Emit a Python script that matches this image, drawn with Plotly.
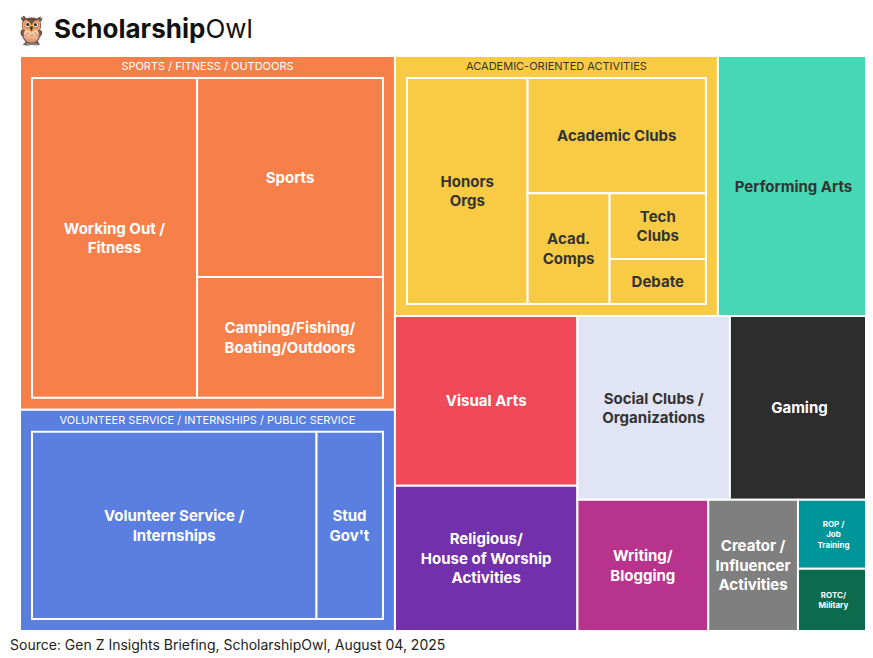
import plotly.graph_objects as go

labels = ["SPORTS / FITNESS / OUTDOORS", "Working Out /<br>Fitness", "Sports", "Camping/Fishing/<br>Boating/Outdoors",
          "VOLUNTEER SERVICE / INTERNSHIPS / PUBLIC SERVICE", "Volunteer Service /<br>Internships", "Stud<br>Gov't",
          "ACADEMIC-ORIENTED ACTIVITIES", "Honors<br>Orgs", "Academic Clubs", "Acad.<br>Comps", "Tech<br>Clubs", "Debate",
          "Performing Arts", "Visual Arts", "Religious/<br>House of Worship<br>Activities", "Social Clubs /<br>Organizations",
          "Gaming", "Writing/<br>Blogging", "Creator /<br>Influencer<br>Activities", "ROP /<br>Job<br>Training", "ROTC/<br>Military"]
S, V, A = labels[0], labels[4], labels[7]
parents = ["", S, S, S,
           "", V, V,
           "", A, A, A, A, A,
           "", "", "", "", "", "", "", "", ""]
values = [27.0, 12.7, 8.9, 5.4,
          16.9, 13.7, 3.2,
          17.1, 6.9, 5.2, 2.3, 1.6, 1.1,
          8.0, 6.3, 5.4, 5.7, 5.2, 3.5, 2.4, 1.0, 0.9]
colors = ["#F7804A", "#F7804A", "#F7804A", "#F7804A",
          "#5A7FE0", "#5A7FE0", "#5A7FE0",
          "#F9CB45", "#F9CB45", "#F9CB45", "#F9CB45", "#F9CB45", "#F9CB45",
          "#46D8B4", "#F04A5A", "#7230AA", "#E0E4F5", "#2D2D2D", "#B8348C", "#7F7F7F", "#00959A", "#0B6B4C"]
dark_text = {A, "Honors<br>Orgs", "Academic Clubs", "Acad.<br>Comps", "Tech<br>Clubs",
             "Debate", "Performing Arts", "Social Clubs /<br>Organizations"}
text_colors = ["#333333" if l in dark_text else "white" for l in labels]
sizes = [11 if l in (S, V, A) else 15 for l in labels]
sizes[-2] = 8
sizes[-1] = 8

fig = go.Figure(go.Treemap(
    labels=labels, parents=parents, values=values, branchvalues="total", sort=False,
    marker=dict(colors=colors, line=dict(color="white", width=2), pad=dict(t=22, l=12, r=12, b=12)),
    textfont=dict(family="Inter, Roboto, sans-serif", color=text_colors, size=sizes),
    texttemplate="<b>%{label}</b>", textposition="middle center",
    tiling=dict(packing="squarify", pad=0),
    pathbar=dict(visible=False),
))
fig.update_layout(
    width=873, height=658, autosize=False, margin=dict(l=0, r=0, t=26, b=23, pad=0),
    paper_bgcolor="white", font=dict(family="Inter, Roboto, sans-serif"),
    uniformtext=dict(minsize=7),
    annotations=[
        dict(text="<b>Scholarship</b>Owl", x=0, xanchor="left", xref="paper", y=1, yref="paper",
             yshift=23, showarrow=False, font=dict(size=26, color="#111111"), xshift=44),
        dict(text="\U0001F989", x=0, xanchor="left", xref="paper", y=1, yref="paper",
             yshift=23, showarrow=False, font=dict(size=28), xshift=4),
        dict(text="Source: Gen Z Insights Briefing, ScholarshipOwl, August 04, 2025", x=0, xanchor="left",
             xref="paper", y=0, yref="paper", yshift=-12, showarrow=False, font=dict(size=14, color="#222222")),
    ],
)
fig.write_html("out.html")
